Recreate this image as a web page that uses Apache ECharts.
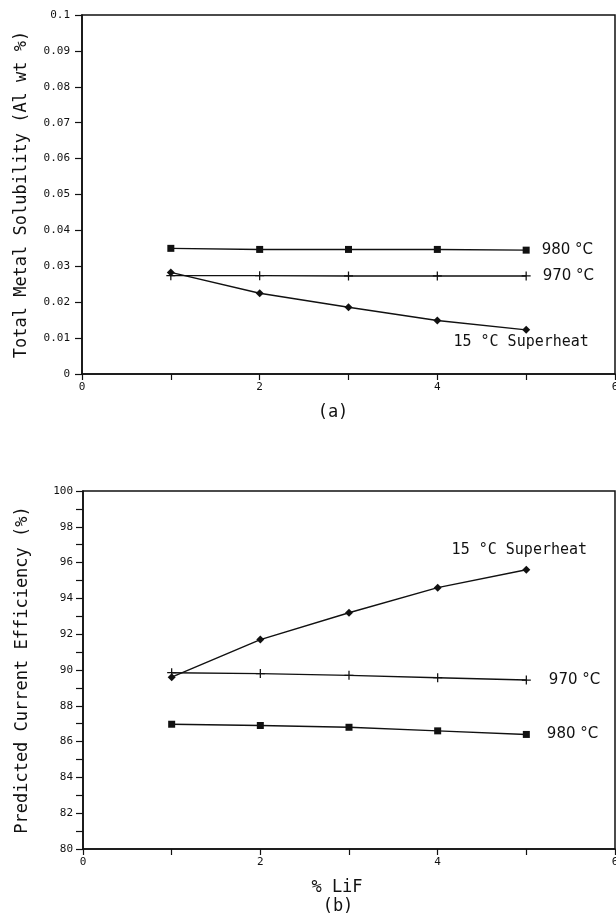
<!DOCTYPE html>
<html><head><meta charset="utf-8">
<script src="https://cdn.jsdelivr.net/npm/echarts@6/dist/echarts.min.js"></script>
<style>html,body{margin:0;padding:0;background:#fff}#c{width:616px;height:913px}</style>
</head><body><div id="c"></div>
<script>
const lif = [1, 2, 3, 4, 5];
// (a) Total metal solubility (Al wt %)
const solub980 = [0.0350, 0.0347, 0.0347, 0.0347, 0.0345];
const solub970 = [0.0274, 0.0274, 0.0273, 0.0273, 0.0273];
const solubSH  = [0.0283, 0.0225, 0.0186, 0.0149, 0.0123];
// (b) Predicted current efficiency (%)
const ce980 = [86.97, 86.9, 86.8, 86.6, 86.4];
const ce970 = [89.85, 89.8, 89.7, 89.57, 89.44];
const ceSH  = [89.6, 91.7, 93.2, 94.6, 95.6];
const labels = ['980 °C', '970 °C', '15 °C Superheat'];

const FONT = 'DejaVu Sans Mono';
const INK = '#111';
const plusPath = 'path://M4.3,0H5.7V4.3H10V5.7H5.7V10H4.3V5.7H0V4.3H4.3Z';

function pts(vals) { return lif.map((x, i) => [x, vals[i]]); }
function withLabel(vals, text, lab) {
  const d = pts(vals);
  const last = d.length - 1;
  d[last] = { value: d[last], label: Object.assign({ show: true, formatter: text, color: INK, fontFamily: FONT, fontSize: 15 }, lab) };
  return d;
}
function line(xi, vals, symbol, size, text, lab) {
  return {
    type: 'line', xAxisIndex: xi, yAxisIndex: xi, data: withLabel(vals, text, lab),
    symbol: symbol, symbolSize: size, showSymbol: true,
    lineStyle: { color: INK, width: 1.4 }, itemStyle: { color: INK },
    emphasis: { disabled: true }, animation: false, z: 3
  };
}
function xAxis(gi) {
  return {
    type: 'value', gridIndex: gi, min: 0, max: 6, interval: 1,
    axisLine: { show: true, onZero: false, lineStyle: { color: INK, width: 1.6 } },
    axisTick: { show: true, inside: false, length: 6, lineStyle: { color: INK, width: 1.2 } },
    splitLine: { show: false },
    axisLabel: { margin: 8, color: INK, fontFamily: FONT, fontSize: 11, showMaxLabel: true, hideOverlap: false,
      formatter: v => (v % 2 === 0 ? String(v) : '') }
  };
}
const SANS = 'DejaVu Sans';

const option = {
  animation: false,
  backgroundColor: '#fff',
  grid: [
    { left: 82, top: 15, width: 533, height: 359, outerBoundsMode: 'none', containLabel: false,
      show: true, borderColor: INK, borderWidth: 1.5, backgroundColor: 'transparent' },
    { left: 83, top: 491, width: 532, height: 358, outerBoundsMode: 'none', containLabel: false,
      show: true, borderColor: INK, borderWidth: 1.5, backgroundColor: 'transparent' }
  ],
  title: [
    { text: '(a)', left: 328, top: 399, textAlign: 'center', textStyle: { fontFamily: FONT, fontSize: 17, fontWeight: 'normal', color: INK } },
    { text: '% LiF', left: 332, top: 874, textAlign: 'center', textStyle: { fontFamily: FONT, fontSize: 17, fontWeight: 'normal', color: INK } },
    { text: '(b)', left: 333, top: 893, textAlign: 'center', textStyle: { fontFamily: FONT, fontSize: 17, fontWeight: 'normal', color: INK } }
  ],
  xAxis: [xAxis(0), xAxis(1)],
  yAxis: [
    { type: 'value', gridIndex: 0, min: 0, max: 0.1, interval: 0.01,
      name: 'Total Metal Solubility (Al wt %)', nameLocation: 'middle', nameGap: 52,
      nameTextStyle: { fontFamily: FONT, fontSize: 17, color: INK },
      axisLine: { show: true, lineStyle: { color: INK, width: 1.6 } },
      axisTick: { show: true, length: 7, lineStyle: { color: INK, width: 1.2 } },
      splitLine: { show: false },
      axisLabel: { margin: 12, color: INK, fontFamily: FONT, fontSize: 11,
        formatter: v => (Math.abs(v) < 1e-9 ? '0' : (Math.abs(v - 0.1) < 1e-9 ? '0.1' : v.toFixed(2))) } },
    { type: 'value', gridIndex: 1, min: 80, max: 100, interval: 2,
      name: 'Predicted Current Efficiency (%)', nameLocation: 'middle', nameGap: 52,
      nameTextStyle: { fontFamily: FONT, fontSize: 17, color: INK },
      axisLine: { show: true, lineStyle: { color: INK, width: 1.6 } },
      axisTick: { show: true, length: 7, lineStyle: { color: INK, width: 1.2 } },
      minorTick: { show: true, splitNumber: 2, length: 7, lineStyle: { color: INK, width: 1.2 } },
      splitLine: { show: false },
      axisLabel: { margin: 10, color: INK, fontFamily: FONT, fontSize: 11 } }
  ],
  series: [
    line(0, solub980, 'rect', 7, labels[0], { position: 'right', distance: 12, fontFamily: SANS }),
    line(0, solub970, plusPath, 9, labels[1], { position: 'right', distance: 12, fontFamily: SANS }),
    line(0, solubSH, 'diamond', 8, labels[2], { position: 'bottom', distance: 1, offset: [-5, 0] }),
    line(1, ce980, 'rect', 7, labels[0], { position: 'right', distance: 17, fontFamily: SANS }),
    line(1, ce970, plusPath, 9, labels[1], { position: 'right', distance: 18, fontFamily: SANS }),
    line(1, ceSH, 'diamond', 8, labels[2], { position: 'top', distance: 8, offset: [-7, 0] })
  ]
};
const chart = echarts.init(document.getElementById('c'), null, { renderer: 'canvas' });
chart.setOption(option);
</script></body></html>
